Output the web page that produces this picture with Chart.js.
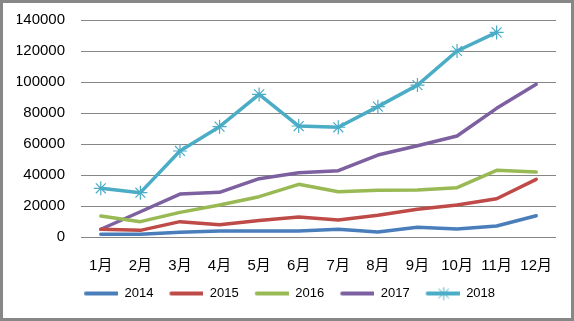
<!DOCTYPE html>
<html>
<head>
<meta charset="utf-8">
<script src="https://cdn.jsdelivr.net/npm/chart.js@4/dist/chart.umd.min.js"></script>
<style>
    html, body { margin: 0; padding: 0; background: #fff; }
    #wrap {
        width: 574px; height: 321px; box-sizing: border-box;
        border: 3px solid #878787; background: #fff; position: relative;
    }
    #chart { display: block; }
</style>
</head>
<body>
<div id="wrap"><canvas id="chart" width="568" height="315"></canvas></div>
<script>
const months = ['1月', '2月', '3月', '4月', '5月', '6月', '7月', '8月', '9月', '10月', '11月', '12月'];
const yearLabels = ['2014', '2015', '2016', '2017', '2018'];
const yearColors = ['#4a7ebb', '#be4b48', '#98b954', '#7d60a0', '#4bacc6'];

const sales2014 = [1700, 1700, 3000, 3900, 3900, 3800, 5000, 3200, 6300, 5200, 7100, 13700];
const sales2015 = [5000, 4300, 9900, 7900, 10700, 12900, 11000, 14000, 17900, 20600, 24700, 37200];
const sales2016 = [13500, 9900, 15900, 20600, 26000, 34000, 29200, 30100, 30300, 31800, 43000, 41900];
const sales2017 = [5000, 16300, 27700, 28800, 37600, 41500, 42800, 52900, 58900, 65200, 83000, 98500];
const sales2018 = [31400, 28600, 55500, 71200, 92000, 71600, 70800, 84100, 98000, 120000, 132000, null];

const seriesData = [sales2014, sales2015, sales2016, sales2017, sales2018];

// legend sample: short thick line (with some empty room on the left),
// 2018 also gets the asterisk marker
function legendIcon(color, withStar) {
    const c = document.createElement('canvas');
    c.width = 40; c.height = 14;
    const g = c.getContext('2d');
    g.strokeStyle = color;
    g.lineCap = 'round';
    g.lineWidth = 4;
    g.beginPath(); g.moveTo(8, 7); g.lineTo(39, 7); g.stroke();
    if (withStar) {
        const cx = 24;
        g.lineWidth = 1;
        g.beginPath();
        g.moveTo(cx, 1); g.lineTo(cx, 13);
        g.moveTo(cx - 5, 2.5); g.lineTo(cx + 5, 11.5);
        g.moveTo(cx + 5, 2.5); g.lineTo(cx - 5, 11.5);
        g.moveTo(cx - 6, 7); g.lineTo(cx + 6, 7);
        g.stroke();
    }
    return c;
}

const datasets = seriesData.map((data, i) => ({
    label: yearLabels[i],
    data: data,
    borderColor: yearColors[i],
    backgroundColor: yearColors[i],
    borderWidth: 3.5,
    borderCapStyle: 'round',
    borderJoinStyle: 'round',
    tension: 0,
    pointStyle: i === 4 ? 'star' : 'circle',
    pointRadius: i === 4 ? 7 : 0,
    pointBorderWidth: 1.2,
    pointHoverRadius: 0
}));

const font = { family: '"Liberation Sans", "Noto Sans CJK SC", sans-serif' };

new Chart(document.getElementById('chart'), {
    type: 'line',
    data: { labels: months, datasets: datasets },
    options: {
        responsive: false,
        animation: false,
        events: [],
        layout: { padding: { top: 17, right: 15, left: 14, bottom: 8 } },
        plugins: {
            tooltip: { enabled: false },
            legend: {
                position: 'bottom',
                labels: {
                    color: '#000',
                    font: { ...font, size: 13 },
                    usePointStyle: true,
                    pointStyleWidth: 40,
                    padding: 10,
                    generateLabels: chart => chart.data.datasets.map((ds, i) => ({
                        text: ds.label,
                        datasetIndex: i,
                        pointStyle: legendIcon(yearColors[i], i === 4),
                        fillStyle: yearColors[i],
                        strokeStyle: yearColors[i],
                        lineWidth: 0,
                        fontColor: '#000',
                        hidden: false
                    }))
                }
            }
        },
        scales: {
            x: {
                offset: true,
                // invisible tick marks keep the labels away from the plot
                grid: { display: true, drawOnChartArea: false, drawTicks: true, tickLength: 20, tickColor: 'transparent' },
                border: { display: false },
                ticks: { color: '#000', font: { ...font, size: 15 }, padding: 0, maxRotation: 0 },
                afterFit: s => { s.height = 40; }
            },
            y: {
                min: 0,
                max: 140000,
                grid: { color: '#868686', lineWidth: 1, drawTicks: true, tickLength: 16, tickColor: 'transparent' },
                border: { display: false },
                ticks: {
                    stepSize: 20000, color: '#000', font: { ...font, size: 15 }, padding: 0,
                    callback: v => String(v)
                },
                afterFit: s => { s.width = 64; }
            }
        }
    }
});
</script>
</body>
</html>
